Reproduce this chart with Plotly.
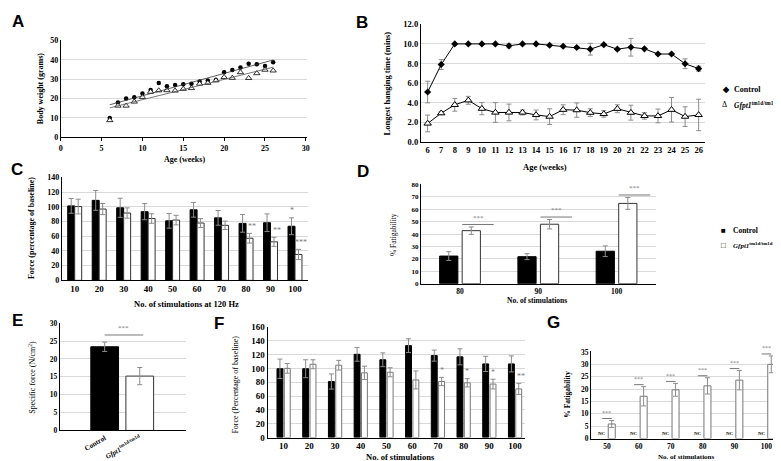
import plotly.graph_objects as go
import numpy as np

W, H = 781, 461
SERIF = "Liberation Serif, Times New Roman, Times, serif"
SANS = "Liberation Sans, Arial, sans-serif"
GRID = "#d9d9d9"
ERRC = "#8c8c8c"

# ---- A: body weight
a_weeks = list(range(6, 27))
a_control = [10, 18, 20, 20.7, 22.7, 24.4, 28.1, 26.4, 27.1, 27.4, 27.7,
             28.9, 29.4, 29.7, 33.6, 34.8, 36.1, 38.1, 37.8, 36.9, 38.8]
a_mutant = [8.8, 16.3, 16.3, 18.4, 20.8, 23.5, 24.2, 24.3, 24.1, 25, 25.4,
            27.7, 28.1, 29.4, 31.1, 30.7, 33.6, 30.6, 33.1, 34.9, 34.5]

# ---- B: hanging time
b_weeks = [str(w) for w in range(6, 27)]
b_control = [5.1, 7.9, 10, 10, 10, 10, 9.8, 10, 10, 9.86, 9.76, 9.63, 9.46,
             9.92, 9.46, 9.66, 9.5, 8.97, 8.97, 7.98, 7.48]
b_control_err = [1.1, 0.5, 0, 0, 0, 0, 0.2, 0, 0, 0.05, 0.05, 0.05, 0.6, 0.1,
                 0.1, 0.9, 0.05, 0.05, 0.05, 0.5, 0.25]
b_mutant = [1.9, 2.95, 3.8, 4.26, 3.41, 3.02, 3.02, 3.02, 2.77, 2.6, 3.3,
            3.26, 3.0, 2.87, 3.4, 3.0, 2.67, 2.67, 3.3, 2.6, 2.77]
b_mutant_err = [0.85, 0.15, 0.65, 0.4, 0.62, 1.0, 0.85, 0.25, 0.5, 0.8, 0.5,
                0.73, 0.4, 0.33, 0.4, 0.76, 0.33, 0.7, 1.25, 1.0, 1.6]

# ---- C: force at 120 Hz
c_stim = ["10", "20", "30", "40", "50", "60", "70", "80", "90", "100"]
c_control = [101.3, 108.8, 98.7, 93.4, 81, 96, 85, 77.5, 78.4, 73.6]
c_control_err = [10, 13.5, 13, 11, 10, 10, 10, 12, 12, 11.5]
c_mutant = [100.4, 97, 91.6, 84.1, 82, 78, 74.9, 57.3, 52.4, 35.2]
c_mutant_err = [10, 7.5, 7, 6.5, 6.5, 6, 5.7, 6.6, 6.2, 7]
c_control_stars = ["", "", "", "", "", "", "", "", "", "*"]
c_mutant_stars = ["", "", "", "", "", "", "", "**", "**", "***"]

# ---- D: fatigability
d_stim = ["80", "90", "100"]
d_control = [22.3, 21.8, 26.2]
d_control_err = [3.5, 2.4, 4.3]
d_mutant = [42.8, 48, 64.8]
d_mutant_err = [3, 3.8, 4.8]
d_stars = ["***", "***", "***"]

# ---- E: specific force
e_groups = ["<b>Control</b>", "<b><i>Gfpt1</i><sup>tm1d/tm1d</sup></b>"]
e_force = [23.4, 15.2]
e_err = [1.3, 2.4]

# ---- F: force, other muscle
f_stim = ["10", "20", "30", "40", "50", "60", "70", "80", "90", "100"]
f_control = [99.7, 99.7, 81.2, 120.6, 112.7, 133.1, 118.7, 116.9, 106.7, 106.7]
f_control_err = [14, 13, 11, 10, 10, 10, 8, 11.6, 11, 11.6]
f_mutant = [100.2, 106.2, 104.8, 93.7, 94.6, 83.5, 81.2, 79.3, 77.5, 70.5]
f_mutant_err = [7, 6.5, 7, 9.7, 6.5, 13, 6, 6, 7, 8]
f_stars = ["", "", "", "", "", "", "*", "*", "*", "**"]

# ---- G: fatigability
g_stim = ["50", "60", "70", "80", "90", "100"]
g_control = ["NC", "NC", "NC", "NC", "NC", "NC"]
g_mutant = [5.9, 17.1, 19.7, 21.3, 23.6, 30]
g_mutant_err = [1.4, 3.9, 2.6, 3.3, 3.9, 3.4]


def px(x):
    return x / W


def py(y):
    return 1 - y / H


def err(vals, color=ERRC):
    return dict(type="data", array=vals, color=color, thickness=1, width=2.5)


fig = go.Figure()
ann = []
shapes = []


def text(x, y, s, size=8, bold=True, angle=0, family=SERIF, color="black",
         xanchor="center", yanchor="middle", xref="paper", yref="paper"):
    if xref == "paper":
        x, y = px(x), py(y)
    if bold:
        s = "<b>" + s + "</b>"
    ann.append(dict(x=x, y=y, xref=xref, yref=yref, text=s, showarrow=False,
                    textangle=angle, xanchor=xanchor, yanchor=yanchor,
                    font=dict(family=family, size=size, color=color)))


def bars(n, xs, ys, errs, fill, line, width, offset):
    fig.add_trace(go.Bar(x=xs, y=ys, xaxis="x" + str(n), yaxis="y" + str(n),
                         width=width, offset=offset,
                         marker=dict(color=fill, line=dict(color=line, width=1)),
                         error_y=err(errs), showlegend=False))


# A
fig.add_trace(go.Scatter(x=a_weeks, y=a_control, mode="markers", xaxis="x", yaxis="y",
                         marker=dict(symbol="circle", size=4.5, color="black"),
                         showlegend=False))
fig.add_trace(go.Scatter(x=a_weeks, y=a_mutant, mode="markers", xaxis="x", yaxis="y",
                         marker=dict(symbol="triangle-up", size=5.5, color="white",
                                     line=dict(color="black", width=0.8)),
                         showlegend=False))
for vals, col in [(a_control, "#333333"), (a_mutant, "#555555")]:
    k, b = np.polyfit(a_weeks, vals, 1)
    xs = [a_weeks[0], a_weeks[-1]]
    fig.add_trace(go.Scatter(x=xs, y=[k * v + b for v in xs], mode="lines",
                             xaxis="x", yaxis="y", line=dict(color=col, width=0.8),
                             showlegend=False))

# B
fig.add_trace(go.Scatter(x=b_weeks, y=b_control, mode="lines+markers", xaxis="x2", yaxis="y2",
                         line=dict(color="black", width=1),
                         marker=dict(symbol="diamond", size=5.5, color="black"),
                         error_y=err(b_control_err), showlegend=False))
fig.add_trace(go.Scatter(x=b_weeks, y=b_mutant, mode="lines+markers", xaxis="x2", yaxis="y2",
                         line=dict(color="black", width=1),
                         marker=dict(symbol="triangle-up", size=6.5, color="white",
                                     line=dict(color="black", width=1)),
                         error_y=err(b_mutant_err), showlegend=False))

# C
cw = 0.285
bars(3, c_stim, c_control, c_control_err, "black", "black", cw, -cw)
bars(3, c_stim, c_mutant, c_mutant_err, "white", "#333333", cw, 0)
for i, s in enumerate(c_control_stars):
    if s:
        text(i - cw / 2, c_control[i] + c_control_err[i] + 1, s, 8, False, color="#777777",
             yanchor="bottom", xref="x3", yref="y3")
for i, s in enumerate(c_mutant_stars):
    if s:
        text(i + cw / 2 + 0.12, c_mutant[i] + c_mutant_err[i] + 1, s, 8, False,
             color="#777777", yanchor="bottom", xref="x3", yref="y3")

# D
dw, dg = 0.233, 0.055
bars(4, d_stim, d_control, d_control_err, "black", "black", dw, -dw - dg / 2)
bars(4, d_stim, d_mutant, d_mutant_err, "white", "#333333", dw, dg / 2)
for i, s in enumerate(d_stars):
    top = d_mutant[i] + d_mutant_err[i] + 2
    shapes.append(dict(type="line", xref="x4", yref="y4", x0=i + dg / 2, x1=i + 0.43,
                       y0=top, y1=top, line=dict(color="#777777", width=1)))
    text(i + 0.23, top + 0.5, s, 7, False, color="#777777", yanchor="bottom",
         xref="x4", yref="y4")

# E
fig.add_trace(go.Bar(x=[0, 1], y=e_force, xaxis="x5", yaxis="y5", width=0.79,
                     marker=dict(color=["black", "white"], line=dict(color=["black", "#333333"], width=1)),
                     error_y=err(e_err), showlegend=False))
etop = max(v + e for v, e in zip(e_force, e_err)) + 2
shapes.append(dict(type="line", xref="x5", yref="y5", x0=0, x1=1.1, y0=etop, y1=etop,
                   line=dict(color="#777777", width=1)))
text(0.55, etop + 0.3, "***", 7, False, color="#777777", yanchor="bottom", xref="x5", yref="y5")

# F
fw, fg = 0.23, 0.055
bars(6, f_stim, f_control, f_control_err, "black", "black", fw, -fw - fg / 2)
bars(6, f_stim, f_mutant, f_mutant_err, "white", "#777777", fw, fg / 2)
for i, s in enumerate(f_stars):
    if s:
        text(i + fg / 2 + fw / 2 + (0.08 if len(s) > 1 else 0), f_mutant[i] + f_mutant_err[i] + 1,
             s, 8, False, color="#777777", yanchor="bottom", xref="x6", yref="y6")

# G
gw, gg = 0.22, 0.08
bars(7, g_stim, g_mutant, g_mutant_err, "white", "#777777", gw, gg / 2)
for i, s in enumerate(g_control):
    text(i - gg / 2 - gw / 2, 0.4, s, 5, True, yanchor="bottom", xref="x7", yref="y7")
    top = g_mutant[i] + g_mutant_err[i] + 0.8
    shapes.append(dict(type="line", xref="x7", yref="y7", x0=i - gg / 2 - gw / 2,
                       x1=i + gg / 2 + gw / 2, y0=top, y1=top,
                       line=dict(color="#777777", width=1)))
    text(i, top + 0.2, "***", 6, False, color="#777777", yanchor="bottom", xref="x7", yref="y7")


def tf(size):
    return dict(family=SERIF, size=size, color="black", weight="bold")


def xax(x0, x1, **kw):
    d = dict(domain=[px(x0), px(x1)], showline=True, linecolor="black", linewidth=1,
             showgrid=False, zeroline=False, ticks="", tickfont=tf(8))
    d.update(kw)
    return d


def yax(y0, y1, anchor, **kw):
    d = dict(domain=[py(y1), py(y0)], anchor=anchor, showline=True, linecolor="black",
             linewidth=1, showgrid=True, gridcolor=GRID, gridwidth=1, zeroline=False,
             ticks="", tickfont=tf(8))
    d.update(kw)
    return d


layout = dict(
    width=W, height=H, margin=dict(l=0, r=0, t=0, b=0),
    font=dict(family=SERIF),
    paper_bgcolor="white", plot_bgcolor="white", barmode="overlay",
    xaxis=xax(51, 299, anchor="y", range=[0, 30.2], dtick=5, ticks="outside", ticklen=3,
              tickcolor="black"),
    yaxis=yax(27.7, 127, "x", range=[0, 50.3], dtick=10),
    xaxis2=xax(413, 699, anchor="y2", type="category", range=[-0.5, 20.5],
               tickfont=tf(8.5)),
    yaxis2=yax(11, 132, "x2", range=[0, 12.05], dtick=2, tickformat=".1f",
               tickfont=tf(8.5)),
    xaxis3=xax(52, 300, anchor="y3", type="category", range=[-0.53, 9.55],
               tickfont=tf(9)),
    yaxis3=yax(167.7, 273.3, "x3", range=[0, 140.5], dtick=20),
    xaxis4=xax(413, 649, anchor="y4", type="category", range=[-0.5, 2.5],
               tickfont=tf(7.5)),
    yaxis4=yax(175, 276.7, "x4", range=[0, 80.3], dtick=10, tickfont=tf(7)),
    xaxis5=xax(50, 177, anchor="y5", range=[-1.28, 2.32], tickvals=[0, 1],
               ticktext=e_groups, tickangle=-30, tickfont=tf(7)),
    yaxis5=yax(316.7, 426.7, "x5", range=[0, 30.1], dtick=5, tickfont=tf(7.5)),
    xaxis6=xax(259, 518, anchor="y6", type="category", range=[-0.62, 9.4],
               tickfont=tf(9)),
    yaxis6=yax(320.7, 434, "x6", range=[0, 160.5], dtick=20, tickfont=tf(9)),
    xaxis7=xax(584, 778, anchor="y7", type="category", range=[-0.5, 5.55],
               tickfont=tf(7.5)),
    yaxis7=yax(346, 435, "x7", range=[0, 35.2], dtick=5, tickfont=tf(7.5)),
)

# axis titles
text(30, 77, "Body weight (grams)", 8, angle=-90)
text(175, 150, "Age (weeks)", 8)
text(379, 72, "Longest hanging time (mins)", 8.5, angle=-90)
text(538, 157, "Age (weeks)", 8.5)
text(21, 220, "Force (percentage of baseline)", 8, angle=-90)
text(177, 297, "No. of stimulations at 120 Hz", 8.5)
text(385, 227, "% Fatigability", 7.5, False, angle=-90)
text(530, 294, "No. of stimulations", 7.5)
text(22, 372, "Specific force (N/cm<sup>2</sup>)", 8, False, angle=-90)
text(227, 380, "Force (Percentage of baseline)", 8, False, angle=-90)
text(393, 453.5, "No. of stimulations", 8.5)
text(560, 390, "% Fatigability", 7.5, angle=-90)
text(679, 454, "No. of stimulations", 7)

# legends
text(714, 78, "◆", 8, xanchor="left")
text(726, 78, "Control", 8, xanchor="left")
text(714, 94, "Δ", 8, False, xanchor="left")
text(726, 94, "<i>Gfpt1</i><sup>tm1d/tm1d</sup>", 7.5, xanchor="left")
text(713, 222.7, "■", 8, False, xanchor="left")
text(725, 222.7, "Control", 7.5, xanchor="left")
text(713, 237.7, "□", 8, False, xanchor="left")
text(725, 237.7, "<i>Gfpt1</i><sup>tm1d/tm1d</sup>", 7, xanchor="left")

# panel letters
for letter, x, y in [("A", 8, 9), ("B", 354, 10), ("C", 7, 160), ("D", 355, 162),
                     ("E", 8, 314), ("F", 210, 317), ("G", 546, 316)]:
    text(x, y, letter, 17, family=SANS)

layout["annotations"] = ann
layout["shapes"] = shapes
fig.update_layout(**layout)
fig.write_html("out.html")
